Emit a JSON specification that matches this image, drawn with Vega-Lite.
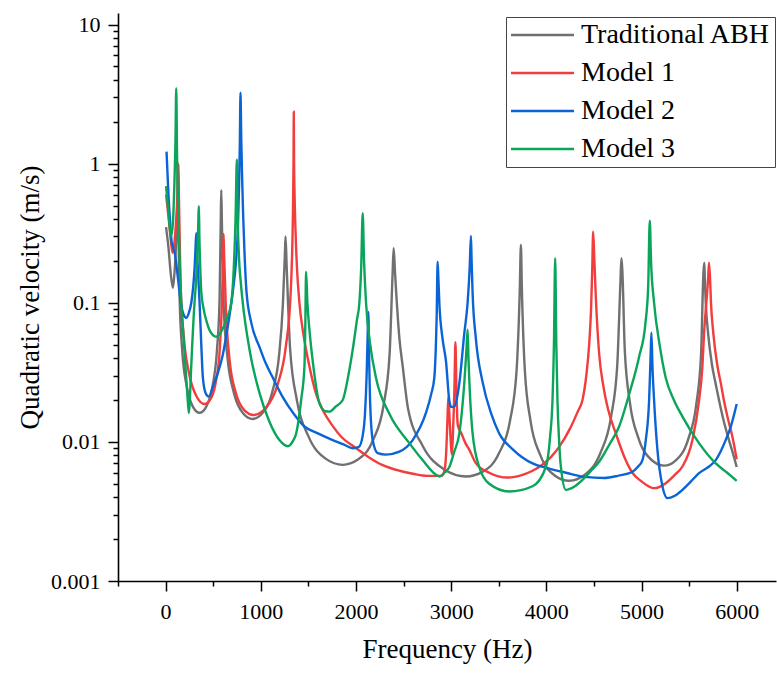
{
"$schema":"https://vega.github.io/schema/vega-lite/v6.json",
"width":658,"height":568,
"autosize":{"type":"none"},
"padding":{"left":118,"top":13,"right":1,"bottom":92},
"config":{"view":{"stroke":null},"font":"Liberation Serif",
"axis":{"grid":false,"domainColor":"#000","domainWidth":1.6,"tickColor":"#000","tickWidth":1.5,"labelColor":"#000","labelFont":"Liberation Serif","labelFontSize":22,"titleFont":"Liberation Serif","titleFontSize":27,"titleFontWeight":"normal","titleColor":"#000"}},
"data":{"values":[
{"s":"Traditional ABH","f":5,"v":0.35},{"s":"Traditional ABH","f":30,"v":0.25},{"s":"Traditional ABH","f":55,"v":0.16},{"s":"Traditional ABH","f":77,"v":0.128},{"s":"Traditional ABH","f":95,"v":0.17},{"s":"Traditional ABH","f":110,"v":0.26},{"s":"Traditional ABH","f":120,"v":0.4},{"s":"Traditional ABH","f":126,"v":0.65},{"s":"Traditional ABH","f":130,"v":0.95},{"s":"Traditional ABH","f":134.5,"v":0.409},{"s":"Traditional ABH","f":148,"v":0.1055},{"s":"Traditional ABH","f":175,"v":0.045},{"s":"Traditional ABH","f":221,"v":0.0253},{"s":"Traditional ABH","f":289,"v":0.0178},{"s":"Traditional ABH","f":357,"v":0.0162},{"s":"Traditional ABH","f":425,"v":0.0178},{"s":"Traditional ABH","f":494,"v":0.0253},{"s":"Traditional ABH","f":539,"v":0.045},{"s":"Traditional ABH","f":567,"v":0.1055},{"s":"Traditional ABH","f":580,"v":0.409},{"s":"Traditional ABH","f":585,"v":0.645},{"s":"Traditional ABH","f":592,"v":0.3615},{"s":"Traditional ABH","f":611,"v":0.0934},{"s":"Traditional ABH","f":651,"v":0.04},{"s":"Traditional ABH","f":717,"v":0.0226},{"s":"Traditional ABH","f":816,"v":0.016},{"s":"Traditional ABH","f":915,"v":0.0146},{"s":"Traditional ABH","f":1018,"v":0.0161},{"s":"Traditional ABH","f":1122,"v":0.023},{"s":"Traditional ABH","f":1191,"v":0.0411},{"s":"Traditional ABH","f":1232,"v":0.0967},{"s":"Traditional ABH","f":1253,"v":0.22},{"s":"Traditional ABH","f":1260,"v":0.3},{"s":"Traditional ABH","f":1272,"v":0.1828},{"s":"Traditional ABH","f":1308,"v":0.0469},{"s":"Traditional ABH","f":1380,"v":0.0198},{"s":"Traditional ABH","f":1500,"v":0.011},{"s":"Traditional ABH","f":1681,"v":0.00758},{"s":"Traditional ABH","f":1861,"v":0.00684},{"s":"Traditional ABH","f":2021,"v":0.00746},{"s":"Traditional ABH","f":2182,"v":0.0104},{"s":"Traditional ABH","f":2289,"v":0.0182},{"s":"Traditional ABH","f":2353,"v":0.0422},{"s":"Traditional ABH","f":2385,"v":0.1627},{"s":"Traditional ABH","f":2396,"v":0.247},{"s":"Traditional ABH","f":2411,"v":0.1618},{"s":"Traditional ABH","f":2457,"v":0.055},{"s":"Traditional ABH","f":2491,"v":0.035},{"s":"Traditional ABH","f":2548,"v":0.01725},{"s":"Traditional ABH","f":2700,"v":0.00939},{"s":"Traditional ABH","f":2928,"v":0.00633},{"s":"Traditional ABH","f":3156,"v":0.00564},{"s":"Traditional ABH","f":3329,"v":0.00609},{"s":"Traditional ABH","f":3502,"v":0.00827},{"s":"Traditional ABH","f":3618,"v":0.01413},{"s":"Traditional ABH","f":3687,"v":0.0322},{"s":"Traditional ABH","f":3721,"v":0.1231},{"s":"Traditional ABH","f":3733,"v":0.26},{"s":"Traditional ABH","f":3743,"v":0.1274},{"s":"Traditional ABH","f":3774,"v":0.033},{"s":"Traditional ABH","f":3834,"v":0.01417},{"s":"Traditional ABH","f":3936,"v":0.00806},{"s":"Traditional ABH","f":4088,"v":0.00574},{"s":"Traditional ABH","f":4240,"v":0.00525},{"s":"Traditional ABH","f":4405,"v":0.0058},{"s":"Traditional ABH","f":4569,"v":0.00835},{"s":"Traditional ABH","f":4679,"v":0.015},{"s":"Traditional ABH","f":4745,"v":0.0354},{"s":"Traditional ABH","f":4778,"v":0.1377},{"s":"Traditional ABH","f":4789,"v":0.209},{"s":"Traditional ABH","f":4798,"v":0.1737},{"s":"Traditional ABH","f":4825,"v":0.0447},{"s":"Traditional ABH","f":4879,"v":0.019},{"s":"Traditional ABH","f":4968,"v":0.01064},{"s":"Traditional ABH","f":5103,"v":0.00744},{"s":"Traditional ABH","f":5237,"v":0.00675},{"s":"Traditional ABH","f":5364,"v":0.0074},{"s":"Traditional ABH","f":5491,"v":0.01046},{"s":"Traditional ABH","f":5575,"v":0.0185},{"s":"Traditional ABH","f":5626,"v":0.0432},{"s":"Traditional ABH","f":5651,"v":0.167},{"s":"Traditional ABH","f":5660,"v":0.194},{"s":"Traditional ABH","f":5665,"v":0.15},{"s":"Traditional ABH","f":5675,"v":0.1},{"s":"Traditional ABH","f":5700,"v":0.06},{"s":"Traditional ABH","f":5740,"v":0.036},{"s":"Traditional ABH","f":5780,"v":0.026},{"s":"Traditional ABH","f":5814,"v":0.02},{"s":"Traditional ABH","f":5860,"v":0.0145},{"s":"Traditional ABH","f":5919,"v":0.0103},{"s":"Traditional ABH","f":5960,"v":0.0083},{"s":"Traditional ABH","f":6000,"v":0.0066},
{"s":"Model 1","f":5,"v":0.6},{"s":"Model 1","f":30,"v":0.42},{"s":"Model 1","f":55,"v":0.28},{"s":"Model 1","f":73,"v":0.229},{"s":"Model 1","f":95,"v":0.28},{"s":"Model 1","f":112,"v":0.4},{"s":"Model 1","f":125,"v":0.6},{"s":"Model 1","f":135,"v":1.0},{"s":"Model 1","f":140.5,"v":0.5457},{"s":"Model 1","f":157,"v":0.139},{"s":"Model 1","f":190,"v":0.058},{"s":"Model 1","f":245,"v":0.0314},{"s":"Model 1","f":327,"v":0.0211},{"s":"Model 1","f":409,"v":0.0187},{"s":"Model 1","f":469,"v":0.0201},{"s":"Model 1","f":529,"v":0.0272},{"s":"Model 1","f":569,"v":0.0461},{"s":"Model 1","f":593,"v":0.1047},{"s":"Model 1","f":605,"v":0.22},{"s":"Model 1","f":609,"v":0.312},{"s":"Model 1","f":615,"v":0.22},{"s":"Model 1","f":634,"v":0.0891},{"s":"Model 1","f":672,"v":0.0391},{"s":"Model 1","f":735,"v":0.0229},{"s":"Model 1","f":829,"v":0.01683},{"s":"Model 1","f":924,"v":0.0156},{"s":"Model 1","f":1051,"v":0.0175},{"s":"Model 1","f":1178,"v":0.026},{"s":"Model 1","f":1262,"v":0.0477},{"s":"Model 1","f":1313,"v":0.1142},{"s":"Model 1","f":1338,"v":0.4476},{"s":"Model 1","f":1344,"v":1.0},{"s":"Model 1","f":1347,"v":2.36},{"s":"Model 1","f":1350,"v":1.0},{"s":"Model 1","f":1355,"v":0.6},{"s":"Model 1","f":1365,"v":0.33},{"s":"Model 1","f":1380,"v":0.18},{"s":"Model 1","f":1406,"v":0.1},{"s":"Model 1","f":1450,"v":0.058},{"s":"Model 1","f":1500,"v":0.038},{"s":"Model 1","f":1582,"v":0.022},{"s":"Model 1","f":1650,"v":0.017},{"s":"Model 1","f":1753,"v":0.0131},{"s":"Model 1","f":1850,"v":0.0108},{"s":"Model 1","f":1984,"v":0.0092},{"s":"Model 1","f":2130,"v":0.0078},{"s":"Model 1","f":2281,"v":0.0068},{"s":"Model 1","f":2456,"v":0.0062},{"s":"Model 1","f":2600,"v":0.0059},{"s":"Model 1","f":2750,"v":0.0057},{"s":"Model 1","f":2900,"v":0.0057},{"s":"Model 1","f":2935,"v":0.0065},{"s":"Model 1","f":2950,"v":0.009},{"s":"Model 1","f":2962,"v":0.015},{"s":"Model 1","f":2970,"v":0.021},{"s":"Model 1","f":2985,"v":0.014},{"s":"Model 1","f":3000,"v":0.009},{"s":"Model 1","f":3008,"v":0.0081},{"s":"Model 1","f":3020,"v":0.012},{"s":"Model 1","f":3035,"v":0.025},{"s":"Model 1","f":3045,"v":0.052},{"s":"Model 1","f":3055,"v":0.025},{"s":"Model 1","f":3068,"v":0.0135},{"s":"Model 1","f":3080,"v":0.0125},{"s":"Model 1","f":3100,"v":0.0118},{"s":"Model 1","f":3150,"v":0.0098},{"s":"Model 1","f":3190,"v":0.0088},{"s":"Model 1","f":3261,"v":0.007},{"s":"Model 1","f":3400,"v":0.006},{"s":"Model 1","f":3593,"v":0.00554},{"s":"Model 1","f":3750,"v":0.0058},{"s":"Model 1","f":3855,"v":0.0062},{"s":"Model 1","f":3950,"v":0.0068},{"s":"Model 1","f":4050,"v":0.0078},{"s":"Model 1","f":4135,"v":0.0092},{"s":"Model 1","f":4250,"v":0.0125},{"s":"Model 1","f":4330,"v":0.0165},{"s":"Model 1","f":4380,"v":0.02},{"s":"Model 1","f":4420,"v":0.03},{"s":"Model 1","f":4450,"v":0.05},{"s":"Model 1","f":4470,"v":0.09},{"s":"Model 1","f":4482,"v":0.17},{"s":"Model 1","f":4492,"v":0.324},{"s":"Model 1","f":4505,"v":0.2},{"s":"Model 1","f":4520,"v":0.11},{"s":"Model 1","f":4555,"v":0.043},{"s":"Model 1","f":4600,"v":0.025},{"s":"Model 1","f":4650,"v":0.017},{"s":"Model 1","f":4730,"v":0.0115},{"s":"Model 1","f":4830,"v":0.0075},{"s":"Model 1","f":4904,"v":0.006},{"s":"Model 1","f":5000,"v":0.0052},{"s":"Model 1","f":5132,"v":0.00465},{"s":"Model 1","f":5255,"v":0.00505},{"s":"Model 1","f":5350,"v":0.0058},{"s":"Model 1","f":5430,"v":0.00665},{"s":"Model 1","f":5535,"v":0.0103},{"s":"Model 1","f":5605,"v":0.02},{"s":"Model 1","f":5640,"v":0.035},{"s":"Model 1","f":5657,"v":0.06},{"s":"Model 1","f":5681,"v":0.1},{"s":"Model 1","f":5700,"v":0.15},{"s":"Model 1","f":5709,"v":0.194},{"s":"Model 1","f":5720,"v":0.15},{"s":"Model 1","f":5730,"v":0.1},{"s":"Model 1","f":5755,"v":0.06},{"s":"Model 1","f":5795,"v":0.036},{"s":"Model 1","f":5835,"v":0.026},{"s":"Model 1","f":5865,"v":0.02},{"s":"Model 1","f":5910,"v":0.0145},{"s":"Model 1","f":5960,"v":0.0105},{"s":"Model 1","f":6000,"v":0.0075},
{"s":"Model 2","f":10,"v":1.22},{"s":"Model 2","f":30,"v":0.6},{"s":"Model 2","f":50,"v":0.36},{"s":"Model 2","f":65,"v":0.27},{"s":"Model 2","f":80,"v":0.25},{"s":"Model 2","f":100,"v":0.22},{"s":"Model 2","f":130,"v":0.15},{"s":"Model 2","f":160,"v":0.1},{"s":"Model 2","f":190,"v":0.082},{"s":"Model 2","f":217,"v":0.078},{"s":"Model 2","f":245,"v":0.085},{"s":"Model 2","f":270,"v":0.1},{"s":"Model 2","f":290,"v":0.13},{"s":"Model 2","f":305,"v":0.18},{"s":"Model 2","f":315,"v":0.25},{"s":"Model 2","f":322,"v":0.316},{"s":"Model 2","f":335,"v":0.2},{"s":"Model 2","f":357,"v":0.1},{"s":"Model 2","f":375,"v":0.05},{"s":"Model 2","f":392,"v":0.0288},{"s":"Model 2","f":420,"v":0.0225},{"s":"Model 2","f":455,"v":0.0212},{"s":"Model 2","f":497,"v":0.0249},{"s":"Model 2","f":547,"v":0.031},{"s":"Model 2","f":600,"v":0.042},{"s":"Model 2","f":654,"v":0.068},{"s":"Model 2","f":706,"v":0.12},{"s":"Model 2","f":740,"v":0.2},{"s":"Model 2","f":760,"v":0.35},{"s":"Model 2","f":772,"v":0.7},{"s":"Model 2","f":780,"v":1.4},{"s":"Model 2","f":787,"v":3.23},{"s":"Model 2","f":795,"v":1.5},{"s":"Model 2","f":805,"v":0.75},{"s":"Model 2","f":815,"v":0.42},{"s":"Model 2","f":829,"v":0.23},{"s":"Model 2","f":850,"v":0.12},{"s":"Model 2","f":900,"v":0.072},{"s":"Model 2","f":987,"v":0.048},{"s":"Model 2","f":1050,"v":0.037},{"s":"Model 2","f":1126,"v":0.029},{"s":"Model 2","f":1231,"v":0.021},{"s":"Model 2","f":1350,"v":0.0158},{"s":"Model 2","f":1459,"v":0.0129},{"s":"Model 2","f":1600,"v":0.0115},{"s":"Model 2","f":1756,"v":0.0103},{"s":"Model 2","f":1870,"v":0.0096},{"s":"Model 2","f":1966,"v":0.009},{"s":"Model 2","f":2030,"v":0.0092},{"s":"Model 2","f":2070,"v":0.011},{"s":"Model 2","f":2095,"v":0.016},{"s":"Model 2","f":2112,"v":0.03},{"s":"Model 2","f":2122,"v":0.055},{"s":"Model 2","f":2130,"v":0.086},{"s":"Model 2","f":2138,"v":0.04},{"s":"Model 2","f":2148,"v":0.02},{"s":"Model 2","f":2176,"v":0.0103},{"s":"Model 2","f":2228,"v":0.0083},{"s":"Model 2","f":2316,"v":0.0081},{"s":"Model 2","f":2456,"v":0.0085},{"s":"Model 2","f":2596,"v":0.0103},{"s":"Model 2","f":2736,"v":0.0162},{"s":"Model 2","f":2790,"v":0.022},{"s":"Model 2","f":2823,"v":0.0288},{"s":"Model 2","f":2840,"v":0.05},{"s":"Model 2","f":2848,"v":0.079},{"s":"Model 2","f":2858,"v":0.197},{"s":"Model 2","f":2866,"v":0.15},{"s":"Model 2","f":2876,"v":0.1},{"s":"Model 2","f":2910,"v":0.055},{"s":"Model 2","f":2946,"v":0.0379},{"s":"Model 2","f":2980,"v":0.02},{"s":"Model 2","f":3000,"v":0.0178},{"s":"Model 2","f":3033,"v":0.018},{"s":"Model 2","f":3086,"v":0.0264},{"s":"Model 2","f":3138,"v":0.06},{"s":"Model 2","f":3173,"v":0.1},{"s":"Model 2","f":3195,"v":0.18},{"s":"Model 2","f":3208,"v":0.302},{"s":"Model 2","f":3215,"v":0.2},{"s":"Model 2","f":3225,"v":0.12},{"s":"Model 2","f":3260,"v":0.055},{"s":"Model 2","f":3330,"v":0.027},{"s":"Model 2","f":3420,"v":0.016},{"s":"Model 2","f":3505,"v":0.0115},{"s":"Model 2","f":3650,"v":0.0088},{"s":"Model 2","f":3855,"v":0.007},{"s":"Model 2","f":4000,"v":0.0065},{"s":"Model 2","f":4205,"v":0.006},{"s":"Model 2","f":4400,"v":0.0056},{"s":"Model 2","f":4607,"v":0.0055},{"s":"Model 2","f":4750,"v":0.0057},{"s":"Model 2","f":4904,"v":0.0061},{"s":"Model 2","f":4960,"v":0.0066},{"s":"Model 2","f":5010,"v":0.0074},{"s":"Model 2","f":5045,"v":0.0103},{"s":"Model 2","f":5080,"v":0.02},{"s":"Model 2","f":5095,"v":0.04},{"s":"Model 2","f":5104,"v":0.061},{"s":"Model 2","f":5115,"v":0.035},{"s":"Model 2","f":5132,"v":0.02},{"s":"Model 2","f":5167,"v":0.0088},{"s":"Model 2","f":5220,"v":0.0048},{"s":"Model 2","f":5272,"v":0.00394},{"s":"Model 2","f":5350,"v":0.0041},{"s":"Model 2","f":5430,"v":0.00452},{"s":"Model 2","f":5520,"v":0.0052},{"s":"Model 2","f":5604,"v":0.00596},{"s":"Model 2","f":5709,"v":0.00665},{"s":"Model 2","f":5780,"v":0.0074},{"s":"Model 2","f":5830,"v":0.0085},{"s":"Model 2","f":5884,"v":0.0103},{"s":"Model 2","f":5940,"v":0.013},{"s":"Model 2","f":6000,"v":0.0187},
{"s":"Model 3","f":5,"v":0.69},{"s":"Model 3","f":30,"v":0.45},{"s":"Model 3","f":55,"v":0.3},{"s":"Model 3","f":75,"v":0.36},{"s":"Model 3","f":92,"v":0.7},{"s":"Model 3","f":104,"v":1.5},{"s":"Model 3","f":112,"v":3.48},{"s":"Model 3","f":120,"v":1.2},{"s":"Model 3","f":135,"v":0.4},{"s":"Model 3","f":150,"v":0.18},{"s":"Model 3","f":165,"v":0.1},{"s":"Model 3","f":190,"v":0.055},{"s":"Model 3","f":215,"v":0.03},{"s":"Model 3","f":235,"v":0.019},{"s":"Model 3","f":245,"v":0.0161},{"s":"Model 3","f":255,"v":0.02},{"s":"Model 3","f":265,"v":0.03},{"s":"Model 3","f":280,"v":0.05},{"s":"Model 3","f":295,"v":0.08},{"s":"Model 3","f":304,"v":0.1},{"s":"Model 3","f":322,"v":0.15},{"s":"Model 3","f":338,"v":0.27},{"s":"Model 3","f":350,"v":0.495},{"s":"Model 3","f":355,"v":0.3},{"s":"Model 3","f":362,"v":0.2},{"s":"Model 3","f":375,"v":0.12},{"s":"Model 3","f":400,"v":0.09},{"s":"Model 3","f":427,"v":0.075},{"s":"Model 3","f":470,"v":0.062},{"s":"Model 3","f":532,"v":0.057},{"s":"Model 3","f":590,"v":0.063},{"s":"Model 3","f":637,"v":0.075},{"s":"Model 3","f":690,"v":0.1},{"s":"Model 3","f":715,"v":0.17},{"s":"Model 3","f":735,"v":0.4},{"s":"Model 3","f":749,"v":1.07},{"s":"Model 3","f":755,"v":0.5},{"s":"Model 3","f":770,"v":0.22},{"s":"Model 3","f":790,"v":0.14},{"s":"Model 3","f":811,"v":0.1},{"s":"Model 3","f":882,"v":0.046},{"s":"Model 3","f":987,"v":0.0224},{"s":"Model 3","f":1092,"v":0.0139},{"s":"Model 3","f":1196,"v":0.0103},{"s":"Model 3","f":1284,"v":0.0093},{"s":"Model 3","f":1340,"v":0.0102},{"s":"Model 3","f":1372,"v":0.0115},{"s":"Model 3","f":1424,"v":0.02},{"s":"Model 3","f":1459,"v":0.035},{"s":"Model 3","f":1468,"v":0.07},{"s":"Model 3","f":1476,"v":0.167},{"s":"Model 3","f":1490,"v":0.1},{"s":"Model 3","f":1515,"v":0.06},{"s":"Model 3","f":1546,"v":0.038},{"s":"Model 3","f":1616,"v":0.019},{"s":"Model 3","f":1680,"v":0.0166},{"s":"Model 3","f":1721,"v":0.0165},{"s":"Model 3","f":1790,"v":0.018},{"s":"Model 3","f":1861,"v":0.02},{"s":"Model 3","f":1920,"v":0.03},{"s":"Model 3","f":1966,"v":0.046},{"s":"Model 3","f":2010,"v":0.075},{"s":"Model 3","f":2036,"v":0.1},{"s":"Model 3","f":2055,"v":0.18},{"s":"Model 3","f":2071,"v":0.44},{"s":"Model 3","f":2085,"v":0.2},{"s":"Model 3","f":2106,"v":0.1},{"s":"Model 3","f":2150,"v":0.05},{"s":"Model 3","f":2211,"v":0.0288},{"s":"Model 3","f":2351,"v":0.0159},{"s":"Model 3","f":2561,"v":0.0098},{"s":"Model 3","f":2700,"v":0.0074},{"s":"Model 3","f":2841,"v":0.0058},{"s":"Model 3","f":2876,"v":0.00564},{"s":"Model 3","f":2930,"v":0.006},{"s":"Model 3","f":2981,"v":0.0066},{"s":"Model 3","f":3033,"v":0.0085},{"s":"Model 3","f":3086,"v":0.0115},{"s":"Model 3","f":3138,"v":0.0264},{"s":"Model 3","f":3160,"v":0.045},{"s":"Model 3","f":3173,"v":0.064},{"s":"Model 3","f":3182,"v":0.04},{"s":"Model 3","f":3190,"v":0.0288},{"s":"Model 3","f":3225,"v":0.0116},{"s":"Model 3","f":3295,"v":0.0066},{"s":"Model 3","f":3400,"v":0.005},{"s":"Model 3","f":3610,"v":0.0044},{"s":"Model 3","f":3855,"v":0.0048},{"s":"Model 3","f":3995,"v":0.0066},{"s":"Model 3","f":4040,"v":0.011},{"s":"Model 3","f":4065,"v":0.02},{"s":"Model 3","f":4080,"v":0.05},{"s":"Model 3","f":4093,"v":0.209},{"s":"Model 3","f":4105,"v":0.05},{"s":"Model 3","f":4117,"v":0.02},{"s":"Model 3","f":4135,"v":0.01},{"s":"Model 3","f":4153,"v":0.0066},{"s":"Model 3","f":4205,"v":0.00452},{"s":"Model 3","f":4300,"v":0.0048},{"s":"Model 3","f":4380,"v":0.00533},{"s":"Model 3","f":4480,"v":0.0063},{"s":"Model 3","f":4555,"v":0.0072},{"s":"Model 3","f":4660,"v":0.0095},{"s":"Model 3","f":4765,"v":0.0129},{"s":"Model 3","f":4870,"v":0.022},{"s":"Model 3","f":4975,"v":0.041},{"s":"Model 3","f":5040,"v":0.07},{"s":"Model 3","f":5070,"v":0.13},{"s":"Model 3","f":5087,"v":0.389},{"s":"Model 3","f":5100,"v":0.2},{"s":"Model 3","f":5132,"v":0.1},{"s":"Model 3","f":5190,"v":0.05},{"s":"Model 3","f":5255,"v":0.0288},{"s":"Model 3","f":5340,"v":0.02},{"s":"Model 3","f":5430,"v":0.0152},{"s":"Model 3","f":5604,"v":0.0098},{"s":"Model 3","f":5780,"v":0.007},{"s":"Model 3","f":5900,"v":0.006},{"s":"Model 3","f":6000,"v":0.00525}
]},
"layer":[
{"mark":{"type":"line","strokeWidth":2.4,"clip":true,"interpolate":"monotone"},
"encoding":{
"x":{"field":"f","type":"quantitative","scale":{"domain":[-500,6413],"nice":false,"zero":false},
"axis":{"orient":"bottom","values":[0,1000,2000,3000,4000,5000,6000],"format":"d","tickSize":10,"labelPadding":10,"title":"Frequency (Hz)","titlePadding":14}},
"y":{"field":"v","type":"quantitative","scale":{"type":"log","domain":[0.001,12.1],"nice":false},
"axis":{"orient":"left","values":[0.001,0.01,0.1,1,10],"format":"~g","tickSize":10,"labelPadding":8,"title":"Quadratic velocity (m/s)","titlePadding":6}},
"color":{"field":"s","type":"nominal","sort":["Traditional ABH","Model 1","Model 2","Model 3"],
"scale":{"domain":["Traditional ABH","Model 1","Model 2","Model 3"],"range":["#707070","#f23d3d","#0b64d6","#0aa55a"]},
"legend":{"orient":"none","legendX":388,"legendY":4,"title":null,"labelFontSize":28,"labelFont":"Liberation Serif","labelColor":"#000","labelLimit":400,"symbolType":"M-1.3,0H5.0","symbolSize":400,"symbolStrokeWidth":2.5,"labelOffset":43,"padding":4,"rowPadding":10,"strokeColor":"#444","fillColor":"#ffffff"}}}},
{"mark":{"type":"line","opacity":0},
"encoding":{
"x":{"field":"f","type":"quantitative","axis":{"orient":"bottom","values":[-500,500,1500,2500,3500,4500,5500],"tickSize":5,"labels":false,"domain":false,"title":null}},
"y":{"field":"v","type":"quantitative","scale":{"type":"log"},"axis":{"orient":"left","values":[0.002,0.003,0.004,0.005,0.006,0.007,0.008,0.009,0.02,0.03,0.04,0.05,0.06,0.07,0.08,0.09,0.2,0.3,0.4,0.5,0.6,0.7,0.8,0.9,2,3,4,5,6,7,8,9],"tickSize":5,"labels":false,"domain":false,"title":null}},
"detail":{"field":"s"}}}
],
"resolve":{"axis":{"x":"independent","y":"independent"}}
}
